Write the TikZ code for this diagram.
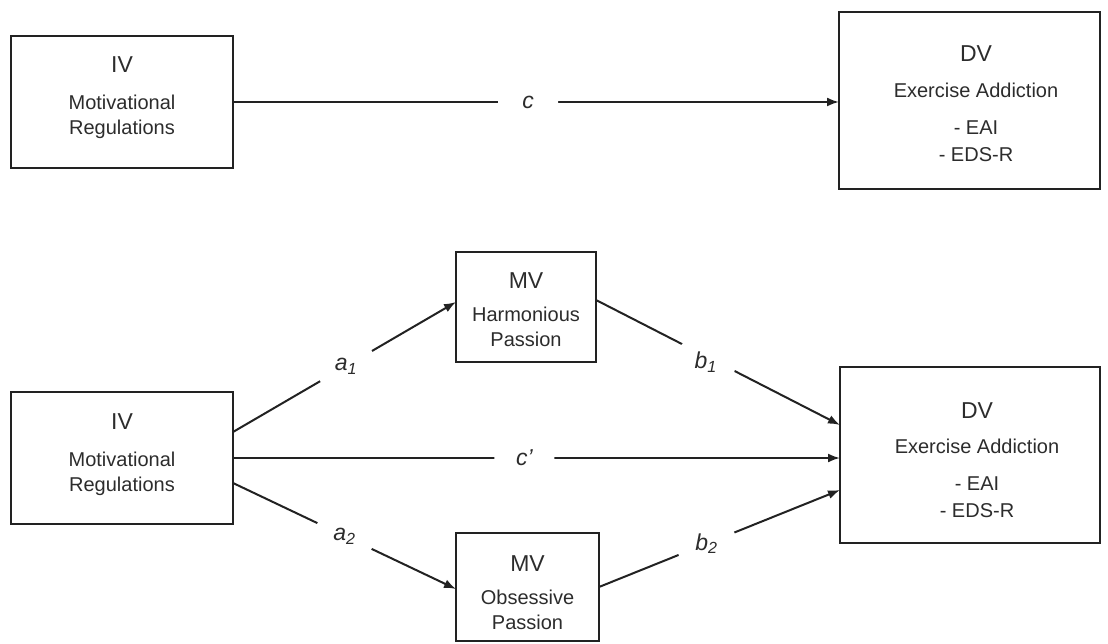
\documentclass[tikz,border=0pt]{standalone}
\usepackage{fontspec}
\setmainfont{Liberation Sans}
\usetikzlibrary{arrows.meta,calc}
\definecolor{ink}{HTML}{222222}
\definecolor{txt}{HTML}{2C2C2C}
\begin{document}
\begin{tikzpicture}[x=1pt,y=-1pt,
  box/.style={draw=ink, line width=2.2pt, rectangle, inner sep=0pt, outer sep=0pt, anchor=north west},
  head/.style={anchor=base, font=\fontsize{23}{27}\selectfont, text=txt, inner sep=0pt},
  body/.style={anchor=base, font=\fontsize{20}{24}\selectfont, text=txt, inner sep=0pt},
  arr/.style={draw=ink, line width=2pt, -{Latex[length=12pt,width=9pt]}},
  lab/.style={circle, fill=white, minimum size=60pt, inner sep=0pt, font=\fontsize{23}{27}\selectfont\itshape, text=txt}]
\useasboundingbox (0,0) rectangle (1108,644);

% boxes
\node[box, minimum width=222pt, minimum height=132pt] (ivt) at (11,36) {};
\node[box, minimum width=261pt, minimum height=177pt] (dvt) at (839,12) {};
\node[box, minimum width=222pt, minimum height=132pt] (ivb) at (11,392) {};
\node[box, minimum width=140pt, minimum height=110pt] (hp) at (456,252) {};
\node[box, minimum width=143pt, minimum height=108pt] (op) at (456,533) {};
\node[box, minimum width=260pt, minimum height=176pt] (dvb) at (840,367) {};

% texts: top IV
\node[head] (ivt1) at ($(ivt.north)+(0,37)$) {IV};
\node[body] (ivt2) at ($(ivt.north)+(0,74)$) {Motivational};
\node[body] (ivt3) at ($(ivt.north)+(0,99)$) {Regulations};
% top DV
\node[head] (dvt1) at ($(dvt.north west)+(137,50)$) {DV};
\node[body] (dvt2) at ($(dvt.north west)+(137,86)$) {Exercise Addiction};
\node[body] (dvt3) at ($(dvt.north west)+(137,123)$) {- EAI};
\node[body] (dvt4) at ($(dvt.north west)+(137,150)$) {- EDS-R};
% bottom IV
\node[head] (ivb1) at ($(ivb.north)+(0,37)$) {IV};
\node[body] (ivb2) at ($(ivb.north)+(0,74)$) {Motivational};
\node[body] (ivb3) at ($(ivb.north)+(0,99)$) {Regulations};
% harmonious
\node[head] (hp1) at ($(hp.north)+(0,36)$) {MV};
\node[body] (hp2) at ($(hp.north)+(0,69)$) {Harmonious};
\node[body] (hp3) at ($(hp.north)+(0,94)$) {Passion};
% obsessive
\node[head] (op1) at ($(op.north)+(0,38)$) {MV};
\node[body] (op2) at ($(op.north)+(0,71)$) {Obsessive};
\node[body] (op3) at ($(op.north)+(0,96)$) {Passion};
% bottom DV
\node[head] (dvb1) at ($(dvb.north west)+(137,51)$) {DV};
\node[body] (dvb2) at ($(dvb.north west)+(137,86)$) {Exercise Addiction};
\node[body] (dvb3) at ($(dvb.north west)+(137,123)$) {- EAI};
\node[body] (dvb4) at ($(dvb.north west)+(137,150)$) {- EDS-R};

% connectors
\draw[arr] (ivt.east) -- node[lab, pos=0.487] (lc) {c} (dvt.west|-ivt.east);
\draw[arr] (ivb.east) -- node[lab, pos=0.48] (lcp) {c'} (dvb.west|-ivb.east);
\draw[arr] ($(ivb.east)+(0,-26)$) -- node[lab, pos=0.507] (la1) {a\textsubscript{1}} ($(hp.west)+(0,-5)$);
\draw[arr] ($(ivb.east)+(0,25)$) -- node[lab, pos=0.5] (la2) {a\textsubscript{2}} ($(op.west)+(0,2)$);
\draw[arr] ($(hp.east)+(0,-7)$) -- node[lab, pos=0.45, yshift=-6pt] (lb1) {b\textsubscript{1}} ($(dvb.north west)+(0,58)$);
\draw[arr] (op.east) -- node[lab, pos=0.446] (lb2) {b\textsubscript{2}} ($(dvb.north west)+(0,123)$);
\end{tikzpicture}
\end{document}
